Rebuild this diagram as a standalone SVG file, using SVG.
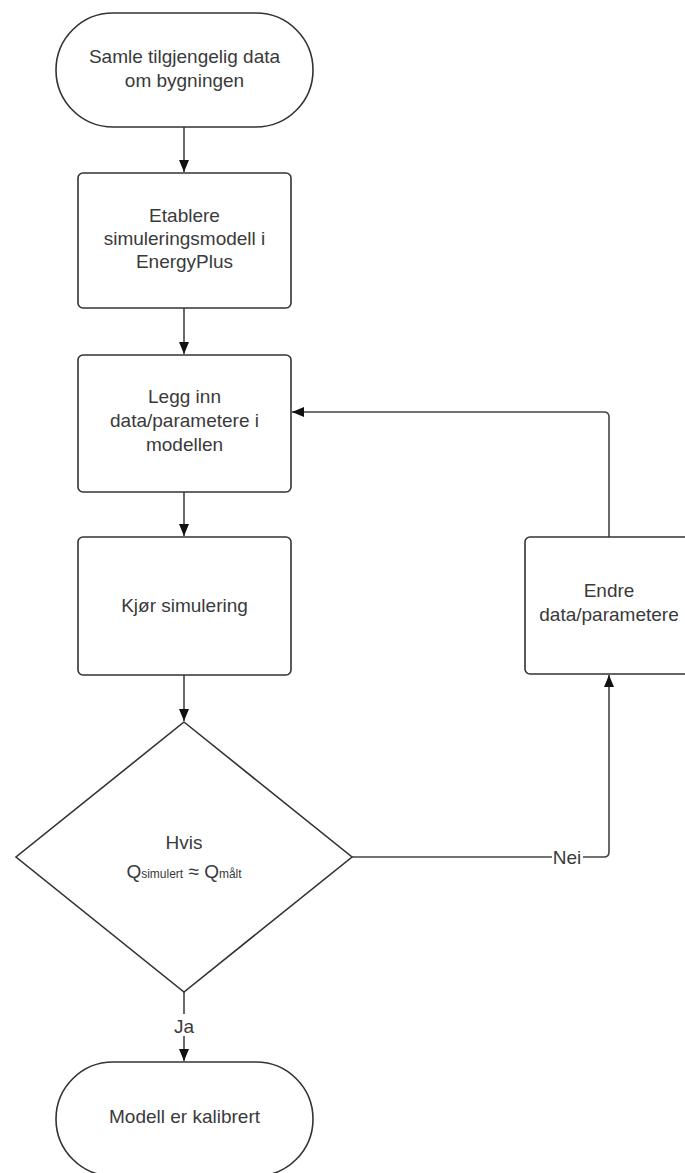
<svg xmlns="http://www.w3.org/2000/svg" width="685" height="1173" viewBox="0 0 685 1173">
<style>
.s{fill:#fff;stroke:#333;stroke-width:1.6}
.t{font-family:"Liberation Sans",Arial,sans-serif;font-size:19px;fill:#3a3a3a;text-anchor:middle}
.sub{font-size:12px}
.c{fill:none;stroke:#444;stroke-width:1.6}
.lb{fill:#fff}
</style>
<defs>
<marker id="ah" viewBox="0 0 12 12" refX="12" refY="6" markerWidth="12" markerHeight="12" markerUnits="userSpaceOnUse" orient="auto">
<path d="M0,1 L12,6 L0,11 Z" fill="#111"/>
</marker>
</defs>
<rect width="685" height="1173" fill="#fff"/>
<g id="connectors">
<path class="c" d="M184,127 V172" marker-end="url(#ah)"/>
<path class="c" d="M184,308 V354" marker-end="url(#ah)"/>
<path class="c" d="M184,492 V536" marker-end="url(#ah)"/>
<path class="c" d="M184,675 V721" marker-end="url(#ah)"/>
<path class="c" d="M184,992 V1061" marker-end="url(#ah)"/>
<path class="c" d="M352,857 H604 Q609,857 609,852 V675" marker-end="url(#ah)"/>
<path class="c" d="M609,537 V417 Q609,412 604,412 H292" marker-end="url(#ah)"/>
<rect class="lb" x="173" y="1014" width="22" height="22"/>
<text class="t" x="184" y="1033">Ja</text>
<rect class="lb" x="552" y="846" width="31" height="22"/>
<text class="t" x="567" y="864">Nei</text>
</g>
<g id="start">
<rect class="s" x="56" y="13" width="257" height="114" rx="57" ry="57"/>
<text class="t" x="184.5" y="63">Samle tilgjengelig data</text>
<text class="t" x="184.5" y="87">om bygningen</text>
</g>
<g id="etablere">
<rect class="s" x="78" y="173" width="213" height="135" rx="5"/>
<text class="t" x="184.5" y="222">Etablere</text>
<text class="t" x="184.5" y="245">simuleringsmodell i</text>
<text class="t" x="184.5" y="268">EnergyPlus</text>
</g>
<g id="legg">
<rect class="s" x="78" y="355" width="213" height="137" rx="5"/>
<text class="t" x="184.5" y="403">Legg inn</text>
<text class="t" x="184.5" y="427">data/parametere i</text>
<text class="t" x="184.5" y="451">modellen</text>
</g>
<g id="kjor">
<rect class="s" x="78" y="537" width="213" height="138" rx="5"/>
<text class="t" x="184.5" y="612">Kjør simulering</text>
</g>
<g id="hvis">
<polygon class="s" points="184,722 352,857 184,992 16,857"/>
<text class="t" x="184" y="849">Hvis</text>
<text class="t" x="184" y="878">Q<tspan class="sub">simulert</tspan> ≈ Q<tspan class="sub">målt</tspan></text>
</g>
<g id="endre">
<rect class="s" x="525" y="537" width="168" height="137" rx="5"/>
<text class="t" x="609" y="597">Endre</text>
<text class="t" x="609" y="621">data/parametere</text>
</g>
<g id="end">
<rect class="s" x="56" y="1062" width="257" height="114" rx="57" ry="57"/>
<text class="t" x="184.5" y="1123">Modell er kalibrert</text>
</g>
</svg>
